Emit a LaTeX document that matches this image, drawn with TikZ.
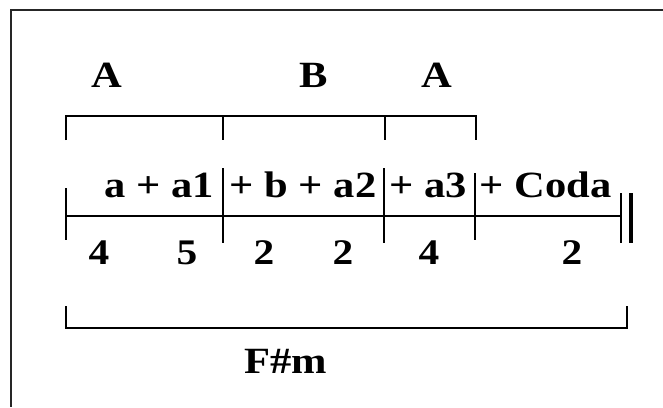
\documentclass[tikz,border=0pt]{standalone}
\usepackage{fontspec}
\setmainfont[FakeStretch=1.15]{Liberation Serif}

\begin{document}
\begin{tikzpicture}[
    x=1pt, y=-1pt,
    line width=1.6pt,
    lbl/.style={inner sep=0pt, font={\fontsize{37}{40}\selectfont\bfseries}},
    num/.style={inner sep=0pt, anchor=base, font={\fontsize{36}{40}\selectfont\bfseries}}
]
    \useasboundingbox (0,0) rectangle (663,407);

    % Frame
    \draw[line width=2pt, black!85] (663,10) -- (11,10) -- (11,407);

    % Coordinates
    \coordinate (secA)  at (66, 116);
    \coordinate (secB)  at (223, 116);
    \coordinate (secA2) at (385, 116);
    \coordinate (secE)  at (476, 116);

    \coordinate (start) at (66, 216);
    \coordinate (fin)   at (621, 216);

    \coordinate (keyL) at (66, 328);
    \coordinate (keyR) at (627, 328);

    % Form brackets (A B A)
    \draw (secA) ++(0,24) -- (secA) -- (secE) -- ++(0,24);
    \draw (secB) -- ++(0,24);
    \draw (secA2) -- ++(0,24);

    % Main line and bar lines
    \draw (start) -- (fin);
    \foreach \x/\top/\bot in {66/188/240, 223/168/243, 384/168/243, 475/173/240}
        \draw (\x,\top) -- (\x,\bot);
    \draw[line width=1.4pt] (621,193) -- (621,243);
    \draw[line width=3.6pt] (631,193) -- (631,243);

    % Key bracket
    \draw (keyL) ++(0,-22) -- (keyL) -- (keyR) -- ++(0,-22);

    % Section letters
    \node[lbl, anchor=base] (lblA)  at (107, 87) {A};
    \node[lbl, anchor=base] (lblB)  at (314, 87) {B};
    \node[lbl, anchor=base] (lblA2) at (437, 87) {A};

    % Phrases
    \node[lbl, anchor=base east] (phr1) at (215, 197) {a + a1};
    \node[lbl, anchor=base west] (phr2) at (229, 197) {+ b + a2};
    \node[lbl, anchor=base west] (phr3) at (389, 197) {+ a3};
    \node[lbl, anchor=base west] (phr4) at (479, 197) {+ Coda};

    % Bar counts
    \node[num] (n1) at (99, 264)  {4};
    \node[num] (n2) at (187, 264) {5};
    \node[num] (n3) at (264, 264) {2};
    \node[num] (n4) at (343, 264) {2};
    \node[num] (n5) at (429, 264) {4};
    \node[num] (n6) at (572, 264) {2};

    % Key
    \node[lbl, anchor=base] (key) at (286, 373) {F\#m};

\end{tikzpicture}
\end{document}
